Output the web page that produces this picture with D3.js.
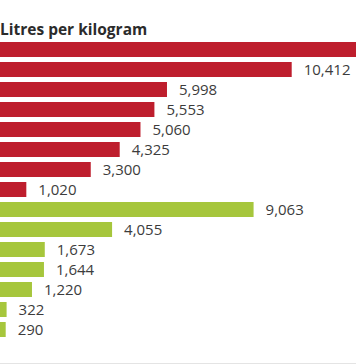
<!DOCTYPE html>
<html>
<head>
<meta charset="utf-8">
<script src="https://cdn.jsdelivr.net/npm/d3@7"></script>
<style>
  html, body { margin: 0; padding: 0; background: #ffffff; }
  svg { display: block; }
</style>
</head>
<body>
<svg id="chart" width="356" height="364"></svg>
<script>
// ---- data ----
const title = "Litres per kilogram";
const categories = ["Beef", "Sheep meat", "Pork", "Butter", "Cheese", "Chicken", "Eggs", "Milk",
                    "Nuts", "Pulses", "Rice", "Cereals", "Maize", "Vegetables", "Potatoes"];
const groups = ["animal", "animal", "animal", "animal", "animal", "animal", "animal", "animal",
                "plant", "plant", "plant", "plant", "plant", "plant", "plant"];
const values = [15415, 10412, 5998, 5553, 5060, 4325, 3300, 1020,
                9063, 4055, 1673, 1644, 1220, 322, 290];
const groupColors = { animal: "#be1e2d", plant: "#a6c63c" };

const data = categories.map((c, i) => ({ cat: c, group: groups[i], value: values[i] }));

const W = 356;
const svg = d3.select("#chart");

const x = d3.scaleLinear().domain([0, 10412]).range([-2.5, 291.7]);
const y = d3.scaleBand().domain(categories).range([39.5, 339.5]).paddingInner(0.25).paddingOuter(0.125);

svg.append("text")
  .attr("x", 0).attr("y", 35)
  .attr("font-family", "'Open Sans', sans-serif")
  .attr("font-weight", 700)
  .attr("font-size", 15.5)
  .attr("fill", "#2b2b2b")
  .text(title);

svg.append("g").selectAll("rect")
  .data(data).join("rect")
  .attr("x", x(0))
  .attr("y", d => y(d.cat))
  .attr("width", d => x(d.value) - x(0))
  .attr("height", y.bandwidth())
  .attr("fill", d => groupColors[d.group]);

// value labels (the label of a bar running past the frame falls outside the picture, as in the original)
const fmt = d3.format(",");
svg.append("g").selectAll("text")
  .data(data.filter(d => x(d.value) + 12 < W)).join("text")
  .attr("x", d => x(d.value) + 12)
  .attr("y", d => y(d.cat) + y.bandwidth() / 2 + 5.5)
  .attr("font-family", "'Open Sans', sans-serif")
  .attr("font-size", 15)
  .attr("fill", "#3c3c3c")
  .text(d => fmt(d.value));

svg.append("line")
  .attr("x1", 0).attr("x2", W)
  .attr("y1", 363.5).attr("y2", 363.5)
  .attr("stroke", "#e4e4e4").attr("stroke-width", 1);
</script>
</body>
</html>
